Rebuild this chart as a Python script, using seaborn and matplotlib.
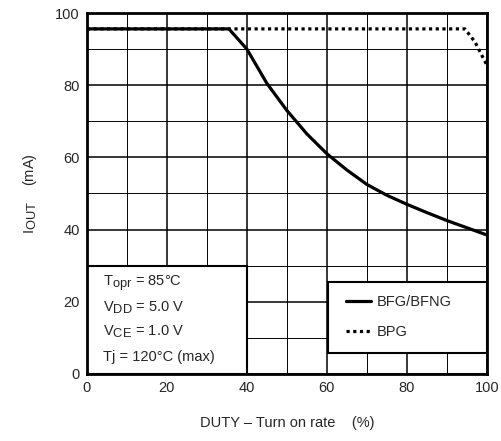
import numpy as np
import pandas as pd
import matplotlib
matplotlib.use("Agg")
import matplotlib.pyplot as plt
import matplotlib._mathtext as mt
from matplotlib.patches import Rectangle
import seaborn as sns

# bigger subscripts, closer to the datasheet look
mt.SHRINK_FACTOR = 0.88

# curve values
duty_bfg = [0, 10, 20, 30, 35.5, 40, 45, 50, 55, 60, 65, 70, 75, 80, 85, 90, 95, 100]
iout_bfg = [95.6, 95.6, 95.6, 95.6, 95.6, 90, 80.5, 73, 66.5, 61, 56.5, 52.5, 49.5, 47, 44.7, 42.5, 40.5, 38.5]
duty_bpg = [0, 20, 40, 60, 80, 94.5, 97, 100]
iout_bpg = [95.6, 95.6, 95.6, 95.6, 95.6, 95.6, 92, 85.5]

xticks = [0, 20, 40, 60, 80, 100]
yticks = [0, 20, 40, 60, 80, 100]
cond_lines = [r'T$\mathregular{_{opr}}$ = 85°C',
              r'V$\mathregular{_{DD}}$ = 5.0 V',
              r'V$\mathregular{_{CE}}$ = 1.0 V',
              'Tj = 120°C (max)']

sns.set_style("white")
plt.rcParams['font.family'] = ['Liberation Sans', 'DejaVu Sans']
plt.rcParams['mathtext.fontset'] = 'custom'
plt.rcParams['mathtext.rm'] = 'Liberation Sans'

df = pd.concat([
    pd.DataFrame({'duty': duty_bfg, 'iout': iout_bfg, 'type': 'BFG/BFNG'}),
    pd.DataFrame({'duty': duty_bpg, 'iout': iout_bpg, 'type': 'BPG'}),
])

fig = plt.figure(figsize=(5.02, 4.41), dpi=100)
ax = fig.add_axes([0.173, 0.152, 0.797, 0.8185])

sns.lineplot(data=df[df['type'] == 'BFG/BFNG'], x='duty', y='iout', color='black',
             lw=2.3, ax=ax, label='BFG/BFNG', zorder=3, sort=False)
sns.lineplot(data=df[df['type'] == 'BPG'], x='duty', y='iout', color='black',
             lw=2.3, ls=(0, (1, 1.1)), ax=ax, label='BPG', zorder=3, sort=False)

ax.set_xlim(0, 100)
ax.set_ylim(0, 100)
ax.set_xticks(xticks)
ax.set_yticks(yticks)
ax.set_xticks(np.arange(10, 100, 20), minor=True)
ax.set_yticks(np.arange(10, 100, 20), minor=True)
ax.grid(which='major', color='black', lw=1.1, zorder=1)
ax.grid(which='minor', color='black', lw=0.7, zorder=1)
ax.tick_params(which='both', length=0, labelsize=10.5, pad=5)
for s in ax.spines.values():
    s.set_linewidth(2)
    s.set_color('black')
    s.set_zorder(5)

# condition box
ax.add_patch(Rectangle((0, 0), 40, 30, facecolor='white', edgecolor='black', lw=1.5, zorder=2))
for txt, yy in zip(cond_lines, [25.2, 18.2, 11.6, 4.7]):
    ax.text(4, yy, txt, fontsize=10.5, va='center', ha='left', zorder=4)

# legend box
ax.add_patch(Rectangle((60.3, 5.8), 39.7, 19.8, facecolor='white', edgecolor='black', lw=1.5, zorder=2))
leg = ax.legend(loc='center left', bbox_to_anchor=(61.5, 15.7), bbox_transform=ax.transData,
                frameon=False, fontsize=10.5, handlelength=1.7, handletextpad=0.4,
                labelspacing=1.1)
leg.set_zorder(6)

ax.set_xlabel('DUTY – Turn on rate    (%)', fontsize=10.5, labelpad=15)
ax.set_ylabel(r'I$\mathregular{_{OUT}}$    (mA)', fontsize=10.5, labelpad=12)

fig.savefig('out.png', dpi=100)
